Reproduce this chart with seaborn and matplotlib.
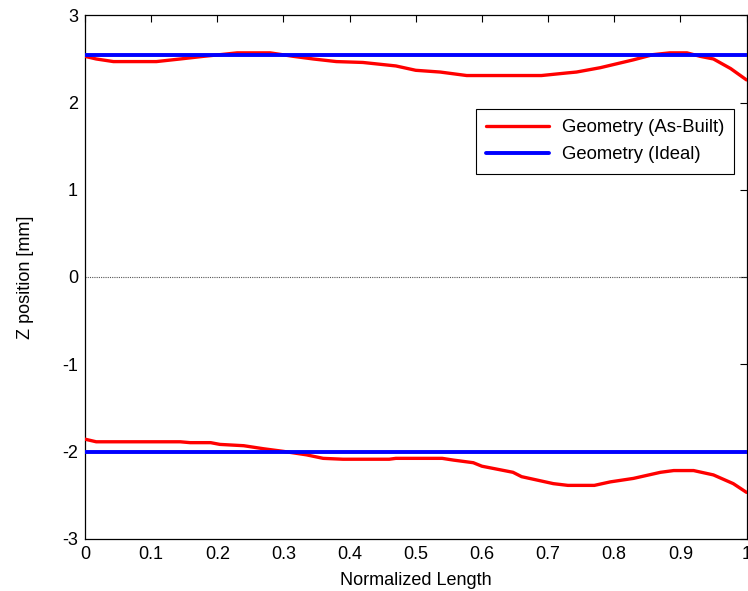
import matplotlib
matplotlib.use("Agg")
import matplotlib.pyplot as plt
import seaborn as sns
import pandas as pd
import numpy as np

# Measured upper edge profile (normalized length, z in mm)
upper_x = [0.0, 0.017, 0.043, 0.108, 0.144, 0.179, 0.205, 0.23, 0.28, 0.315, 0.345,
           0.38, 0.42, 0.47, 0.50, 0.537, 0.577, 0.63, 0.69, 0.729, 0.743, 0.779,
           0.829, 0.859, 0.884, 0.91, 0.93, 0.95, 0.976, 1.0]
upper_z = [2.53, 2.50, 2.47, 2.47, 2.50, 2.53, 2.55, 2.57, 2.57, 2.53, 2.50,
           2.47, 2.46, 2.42, 2.37, 2.35, 2.31, 2.31, 2.31, 2.34, 2.35, 2.40,
           2.49, 2.55, 2.57, 2.57, 2.53, 2.50, 2.39, 2.26]

# Measured lower edge profile
lower_x = [0.0, 0.017, 0.04, 0.144, 0.159, 0.19, 0.204, 0.24, 0.27, 0.30, 0.335,
           0.36, 0.39, 0.46, 0.47, 0.54, 0.557, 0.587, 0.60, 0.647, 0.66, 0.708,
           0.73, 0.77, 0.794, 0.829, 0.87, 0.89, 0.92, 0.95, 0.98, 1.0]
lower_z = [-1.86, -1.89, -1.89, -1.89, -1.90, -1.90, -1.92, -1.935, -1.97, -2.00, -2.04,
           -2.08, -2.09, -2.09, -2.08, -2.08, -2.10, -2.13, -2.17, -2.24, -2.29, -2.37,
           -2.39, -2.39, -2.35, -2.31, -2.24, -2.22, -2.22, -2.27, -2.37, -2.47]

# Ideal (design) edges
ideal_upper = 2.54
ideal_lower = -2.01

x_ticks = [0, 0.1, 0.2, 0.3, 0.4, 0.5, 0.6, 0.7, 0.8, 0.9, 1]
x_ticklabels = ["0", "0.1", "0.2", "0.3", "0.4", "0.5", "0.6", "0.7", "0.8", "0.9", "1"]
y_ticks = [-3, -2, -1, 0, 1, 2, 3]

sns.set_style("white")
plt.rcParams["font.family"] = ["Liberation Sans", "DejaVu Sans"]
plt.rcParams["font.size"] = 13
plt.rcParams["axes.unicode_minus"] = False
plt.rcParams["text.color"] = "black"
plt.rcParams["axes.labelcolor"] = "black"

fig = plt.figure(figsize=(7.48, 5.91), dpi=100)
ax = fig.add_axes([0.1136, 0.0887, 0.8844, 0.8853])

built_up = pd.DataFrame({"x": upper_x, "z": upper_z})
built_lo = pd.DataFrame({"x": lower_x, "z": lower_z})
ideal_up = pd.DataFrame({"x": [0, 1], "z": [ideal_upper, ideal_upper]})
ideal_lo = pd.DataFrame({"x": [0, 1], "z": [ideal_lower, ideal_lower]})

sns.lineplot(data=built_up, x="x", y="z", ax=ax, color="#ff0000", lw=2.4,
             label="Geometry (As-Built)", zorder=3)
sns.lineplot(data=built_lo, x="x", y="z", ax=ax, color="#ff0000", lw=2.4, zorder=3)
sns.lineplot(data=ideal_up, x="x", y="z", ax=ax, color="#0000ff", lw=2.8,
             label="Geometry (Ideal)", zorder=4)
sns.lineplot(data=ideal_lo, x="x", y="z", ax=ax, color="#0000ff", lw=2.8, zorder=4)

# zero reference line
ax.axhline(0, color="#555555", lw=0.8, ls=(0, (1, 1)), zorder=2)

ax.set_xlim(0, 1)
ax.set_ylim(-3, 3)
ax.set_xticks(x_ticks)
ax.set_xticklabels(x_ticklabels)
ax.set_yticks(y_ticks)
ax.set_xlabel("Normalized Length", fontsize=13, labelpad=7, color="black")
ax.set_ylabel("Z position [mm]", fontsize=13, labelpad=20, color="black")

ax.tick_params(direction="in", length=5, width=0.8, top=True, right=True,
               labelsize=13, colors="black", pad=5)
for s in ax.spines.values():
    s.set_color("black")
    s.set_linewidth(0.9)

leg = ax.legend(loc="upper right", bbox_to_anchor=(0.9815, 0.821), frameon=True,
                fancybox=False, edgecolor="black", framealpha=1, fontsize=13.3,
                handlelength=3.4, handletextpad=0.7, labelspacing=0.55,
                borderpad=0.55, borderaxespad=0)
leg.get_frame().set_linewidth(0.8)
for t in leg.get_texts():
    t.set_color("black")

fig.savefig("out.png", dpi=100)
